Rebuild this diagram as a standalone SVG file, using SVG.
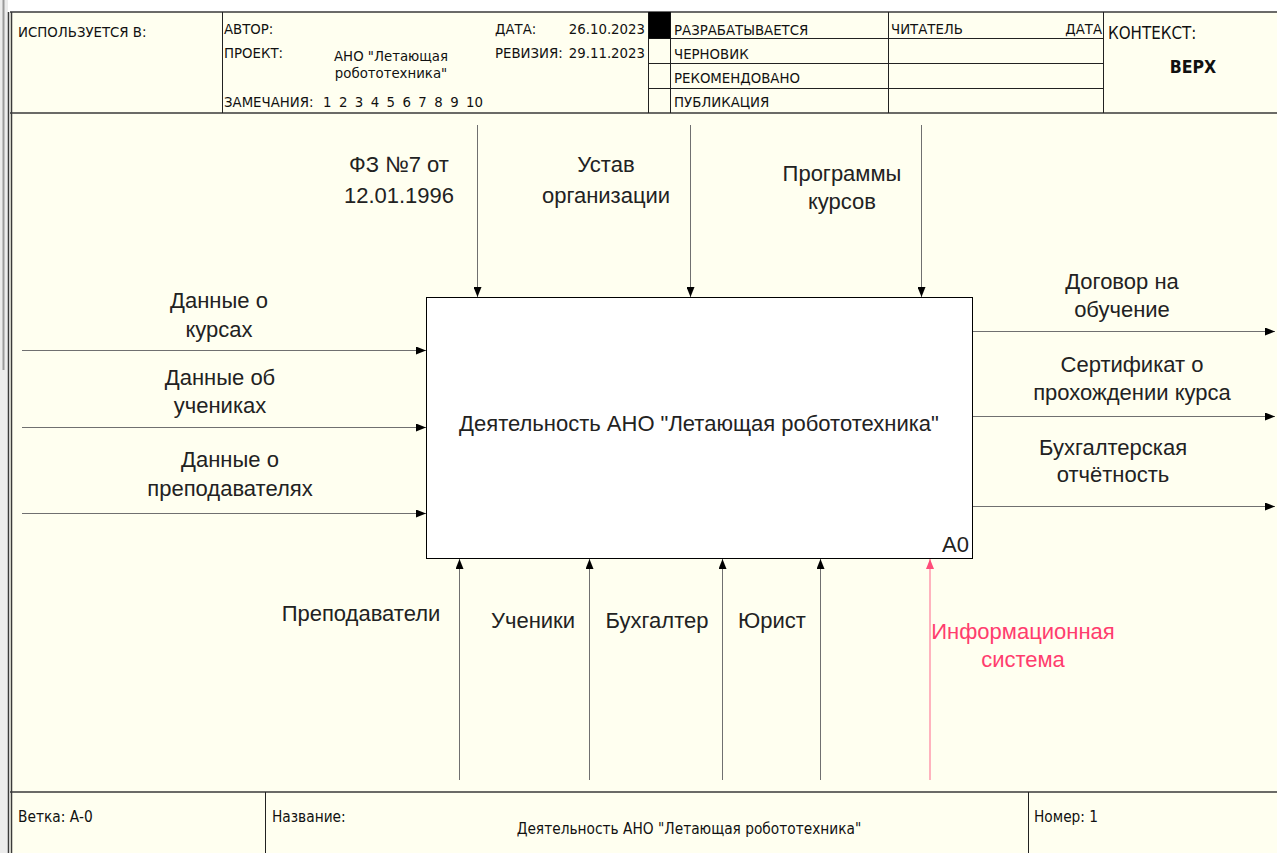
<svg xmlns="http://www.w3.org/2000/svg" width="1277" height="853" viewBox="0 0 1277 853">
<style>
.frame{stroke:#3a3a3a;stroke-width:1.5;fill:none}
.thin{stroke:#222;stroke-width:1;fill:none}
.hdr{font-family:"DejaVu Sans Condensed","DejaVu Sans",sans-serif;font-size:14.8px;fill:#111}
.ftr{font-family:"DejaVu Sans Condensed","DejaVu Sans",sans-serif;font-size:15.3px;fill:#111}
.lbl{font-family:"Liberation Sans",Arial,sans-serif;font-size:22px;fill:#222}
.mid{text-anchor:middle}
.end{text-anchor:end}
.arr{stroke:#707070;stroke-width:1;fill:none}
.pink{stroke:#ff9aae;stroke-width:1.5;fill:none}
</style>
<defs>
<marker id="ah" markerWidth="10" markerHeight="8" refX="10" refY="4" orient="auto" markerUnits="userSpaceOnUse">
<path d="M0,0 L10,4 L0,8 Z" fill="#000"/>
</marker>
<marker id="ahp" markerWidth="10" markerHeight="8" refX="10" refY="4" orient="auto" markerUnits="userSpaceOnUse">
<path d="M0,0 L10,4 L0,8 Z" fill="#ff4d79"/>
</marker>
</defs>
<rect x="0" y="0" width="1277" height="853" fill="#ffffff"/>
<rect x="0" y="0" width="8" height="853" fill="#ececec"/>
<line x1="3.5" y1="0" x2="3.5" y2="370" stroke="#9a9a9a" stroke-width="2"/>
<rect x="10" y="12" width="1270" height="845" fill="#fffff0"/>
<g id="frame">
<line class="frame" x1="10" y1="12" x2="1277" y2="12" stroke-width="2"/>
<line class="frame" x1="8.5" y1="12" x2="8.5" y2="853"/>
<line class="frame" x1="11.5" y1="12" x2="11.5" y2="853"/>
<line class="frame" x1="10" y1="113" x2="1277" y2="113" stroke-width="2"/>
<line class="frame" x1="10" y1="792" x2="1277" y2="792" stroke-width="2"/>
<line class="thin" x1="222.5" y1="12" x2="222.5" y2="113"/>
<line class="thin" x1="648.5" y1="12" x2="648.5" y2="113"/>
<line class="thin" x1="670.5" y1="12" x2="670.5" y2="113"/>
<line class="thin" x1="888.5" y1="12" x2="888.5" y2="113"/>
<line class="thin" x1="1103.5" y1="12" x2="1103.5" y2="113"/>
<line class="thin" x1="648" y1="38.5" x2="1103" y2="38.5"/>
<line class="thin" x1="648" y1="63.5" x2="1103" y2="63.5"/>
<line class="thin" x1="648" y1="88.5" x2="1103" y2="88.5"/>
<rect x="648.5" y="12" width="22" height="26.5" fill="#000"/>
<line class="thin" x1="265.5" y1="792" x2="265.5" y2="853"/>
<line class="thin" x1="1028.5" y1="792" x2="1028.5" y2="853"/>
</g>
<g id="header-text" class="hdr">
<text x="18" y="37">ИСПОЛЬЗУЕТСЯ В:</text>
<text x="224" y="34">АВТОР:</text>
<text x="224" y="58">ПРОЕКТ:</text>
<text class="mid" x="391" y="61">АНО "Летающая</text>
<text class="mid" x="391" y="78">робототехника"</text>
<text x="224" y="107">ЗАМЕЧАНИЯ:</text>
<text x="323" y="107" word-spacing="3.2">1 2 3 4 5 6 7 8 9 10</text>
<text x="495" y="34">ДАТА:</text>
<text class="end" x="645" y="34">26.10.2023</text>
<text x="495" y="58">РЕВИЗИЯ:</text>
<text class="end" x="645" y="58">29.11.2023</text>
<text x="674" y="35">РАЗРАБАТЫВАЕТСЯ</text>
<text x="674" y="59">ЧЕРНОВИК</text>
<text x="674" y="83">РЕКОМЕНДОВАНО</text>
<text x="674" y="107">ПУБЛИКАЦИЯ</text>
<text x="891" y="34">ЧИТАТЕЛЬ</text>
<text class="end" x="1102" y="34">ДАТА</text>
<text x="1108" y="39" font-size="16.8">КОНТЕКСТ:</text>
<text class="mid" x="1193" y="73" font-size="17.5" font-weight="bold">ВЕРХ</text>
</g>
<g id="footer-text" class="ftr">
<text x="18" y="822">Ветка: А-0</text>
<text x="272" y="822">Название:</text>
<text class="mid" x="689" y="834">Деятельность АНО "Летающая робототехника"</text>
<text x="1034" y="822">Номер: 1</text>
</g>
<g id="connectors">
<line class="arr" x1="477.5" y1="125" x2="477.5" y2="297" marker-end="url(#ah)"/>
<line class="arr" x1="690.5" y1="125" x2="690.5" y2="297" marker-end="url(#ah)"/>
<line class="arr" x1="921.5" y1="125" x2="921.5" y2="297" marker-end="url(#ah)"/>
<line class="arr" x1="22" y1="350.5" x2="426" y2="350.5" marker-end="url(#ah)"/>
<line class="arr" x1="22" y1="427.5" x2="426" y2="427.5" marker-end="url(#ah)"/>
<line class="arr" x1="22" y1="513.5" x2="426" y2="513.5" marker-end="url(#ah)"/>
<line class="arr" x1="973" y1="331.5" x2="1275" y2="331.5" marker-end="url(#ah)"/>
<line class="arr" x1="973" y1="416.5" x2="1275" y2="416.5" marker-end="url(#ah)"/>
<line class="arr" x1="973" y1="506.5" x2="1275" y2="506.5" marker-end="url(#ah)"/>
<line class="arr" x1="459.5" y1="780" x2="459.5" y2="559" marker-end="url(#ah)"/>
<line class="arr" x1="589.5" y1="780" x2="589.5" y2="559" marker-end="url(#ah)"/>
<line class="arr" x1="722.5" y1="780" x2="722.5" y2="559" marker-end="url(#ah)"/>
<line class="arr" x1="820.5" y1="780" x2="820.5" y2="559" marker-end="url(#ah)"/>
<line class="pink" x1="930" y1="780" x2="930" y2="559" marker-end="url(#ahp)"/>
</g>
<g id="node-A0">
<rect x="426.5" y="297.5" width="546" height="261" fill="#ffffff" stroke="#000" stroke-width="1"/>
<text class="lbl mid" x="699" y="431">Деятельность АНО "Летающая робототехника"</text>
<text class="lbl end" x="969" y="552">A0</text>
</g>
<g id="labels" class="lbl">
<text class="mid" x="399" y="172">ФЗ №7 от</text>
<text class="mid" x="399" y="203">12.01.1996</text>
<text class="mid" x="606" y="172">Устав</text>
<text class="mid" x="606" y="203">организации</text>
<text class="mid" x="842" y="181">Программы</text>
<text class="mid" x="842" y="209">курсов</text>
<text class="mid" x="219" y="308">Данные о</text>
<text class="mid" x="219" y="337">курсах</text>
<text class="mid" x="220" y="385">Данные об</text>
<text class="mid" x="220" y="413">учениках</text>
<text class="mid" x="230" y="467">Данные о</text>
<text class="mid" x="230" y="496">преподавателях</text>
<text class="mid" x="1122" y="289">Договор на</text>
<text class="mid" x="1122" y="317">обучение</text>
<text class="mid" x="1132" y="372">Сертификат о</text>
<text class="mid" x="1132" y="400">прохождении курса</text>
<text class="mid" x="1113" y="455">Бухгалтерская</text>
<text class="mid" x="1113" y="482">отчётность</text>
<text class="mid" x="361" y="621">Преподаватели</text>
<text class="mid" x="533" y="628">Ученики</text>
<text class="mid" x="657" y="628">Бухгалтер</text>
<text class="mid" x="772" y="628">Юрист</text>
<text class="mid" x="1023" y="639" fill="#ff3d6e">Информационная</text>
<text class="mid" x="1023" y="667" fill="#ff3d6e">система</text>
</g>
</svg>
